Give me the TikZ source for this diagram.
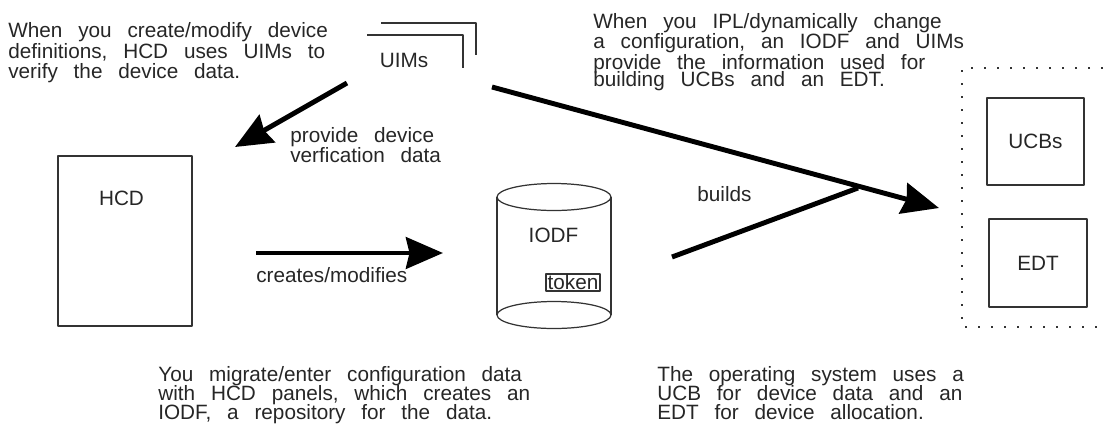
\documentclass[tikz,border=0pt]{standalone}
\usepackage{fontspec}
\setmainfont{Liberation Sans}[WordSpace={2.75,1,1}]
\usepackage{tikz}
\usetikzlibrary{arrows.meta, positioning}

\newcommand\tightlines{\setlength\lineskiplimit{-8pt}}

\begin{document}
\begin{tikzpicture}[x=0.02cm, y=-0.02cm, line join=round,
    txt/.style={inner sep=0pt, align=left, text=black!85,
        font=\fontsize{11.8}{11.6}\selectfont\tightlines},
    box/.style={draw=black!80, line width=0.8pt, inner sep=0pt, text=black!85,
        font=\fontsize{11.8}{13}\selectfont},
    flow/.style={line width=2.8pt, -{Stealth[length=0.74cm, width=0.63cm, inset=0.07cm]}},
    thin/.style={draw=black!80, line width=0.7pt}]

    \useasboundingbox (0,0) rectangle (1103,427);

    % UIMs
    \node[txt, anchor=base] (uims) at (404,67) {UIMs};
    \draw[thin] (367,35) -| (463,67.5);
    \draw[thin] (381,23) -| (476,55);

    % HCD
    \node[box, minimum width=2.68cm, minimum height=3.4cm] (hcd) at (125,241) {};
    \node[txt, anchor=base] (hcdlabel) at (121.5,205) {HCD};

    % IODF
    \draw[thin] (554,197) ellipse [x radius=57, y radius=13.5];
    \draw[thin] (554,315) ellipse [x radius=57, y radius=13.5];
    \draw[thin] (497,197) -- (497,315) (611,197) -- (611,315);
    \node[txt, anchor=base] (iodf) at (553.5,242) {IODF};
    \node[box, inner xsep=0.9pt, inner ysep=0.6pt] (token) at (573,282.5) {token};

    % UCBs und EDT
    \draw[black!80, line width=0.8pt, dash pattern=on 0.9pt off 6.5pt]
        (1103,68) -- (962,68) -- (962,327) -- (1103,327);
    \node[box, minimum width=1.94cm, minimum height=1.74cm] (ucbs) at (1035.5,141.5) {UCBs};
    \node[box, minimum width=1.96cm, minimum height=1.76cm] (edt) at (1038,263) {EDT};

    % Pfeile
    \coordinate (vfyA) at (347,83);
    \coordinate (vfyB) at (235,147);
    \coordinate (crA) at (256,253);
    \coordinate (crB) at (443,253);
    \coordinate (iplA) at (492,87);
    \coordinate (iplB) at (939,208);
    \coordinate (bdA) at (672,257);
    \coordinate (bdB) at (858,188);
    \draw[flow] (vfyA) -- (vfyB);
    \draw[flow] (crA) -- (crB);
    \draw[flow] (iplA) -- (iplB);
    \draw[line width=2.8pt] (bdA) -- (bdB);

    % Beschriftungen
    \node[txt, anchor=base west, font=\fontsize{11.8}{11.3}\selectfont] (vfylabel) at (290,162)
        {provide device\\verfication data};
    \node[txt, anchor=base west] (crlabel) at (256,282) {creates/modifies};
    \node[txt, anchor=base west] (bdlabel) at (697,201) {builds};

    % Texte
    \node[txt, anchor=north west] (notehcd) at (8,22.5)
        {When you create/modify device\\definitions, HCD uses UIMs to\\verify the device data.};
    \node[txt, anchor=north west] (noteipl) at (593,13)
        {When you IPL/dynamically change\\a configuration, an IODF and UIMs\\provide the information used for\\[-2pt]building UCBs and an EDT.};
    \node[txt, anchor=north west, font=\fontsize{11.8}{10.8}\selectfont\tightlines] (noteiodf) at (158,366)
        {You migrate/enter configuration data\\with HCD panels, which creates an\\IODF, a repository for the data.};
    \node[txt, anchor=north west, font=\fontsize{11.8}{10.8}\selectfont\tightlines] (noteos) at (657,366)
        {The operating system uses a\\UCB for device data and an\\EDT for device allocation.};

\end{tikzpicture}
\end{document}
